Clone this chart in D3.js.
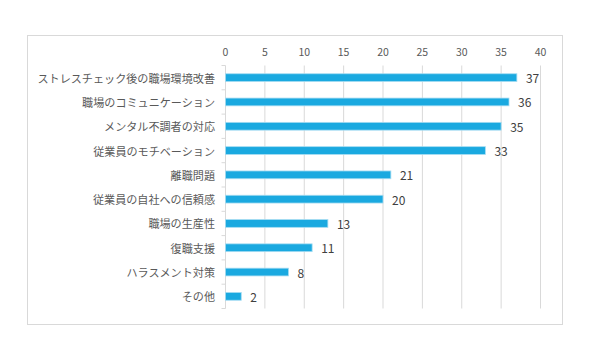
<!DOCTYPE html>
<html>
<head>
<meta charset="utf-8">
<script src="https://cdn.jsdelivr.net/npm/d3@7"></script>
<style>
  body { margin: 0; background: #fff; }
  svg { display: block; font-family: "Noto Sans CJK JP", "Noto Sans", sans-serif; }
</style>
</head>
<body>
<svg id="chart" width="600" height="351"></svg>
<script>
const categories = [
  'ストレスチェック後の職場環境改善',
  '職場のコミュニケーション',
  'メンタル不調者の対応',
  '従業員のモチベーション',
  '離職問題',
  '従業員の自社への信頼感',
  '職場の生産性',
  '復職支援',
  'ハラスメント対策',
  'その他'
]
const values = [37, 36, 35, 33, 21, 20, 13, 11, 8, 2]
const xTicks = [0, 5, 10, 15, 20, 25, 30, 35, 40]

const svg = d3.select('#chart')
const margin = {left: 225.5, right: 59.5, top: 65.5, bottom: 42.5}
const width = 600
const height = 351

// chart frame
svg.append('rect')
  .attr('x', 27.5).attr('y', 35.5)
  .attr('width', 535).attr('height', 289)
  .attr('fill', '#fff')
  .attr('stroke', '#d9d9d9')

const x = d3.scaleLinear().domain([0, 40]).range([margin.left, width - margin.right])
const y = d3.scaleBand().domain(categories).range([margin.top, height - margin.bottom]).paddingInner(0.68).paddingOuter(0.34)
const band = d3.scaleBand().domain(categories).range([margin.top, height - margin.bottom])

// grid
svg.append('g')
  .selectAll('line')
  .data(xTicks.slice(1))
  .join('line')
  .attr('x1', d => x(d)).attr('x2', d => x(d))
  .attr('y1', margin.top).attr('y2', height - margin.bottom)
  .attr('stroke', '#d9d9d9')

// top tick labels
svg.append('g')
  .selectAll('text')
  .data(xTicks)
  .join('text')
  .attr('x', d => x(d))
  .attr('y', 51)
  .attr('text-anchor', 'middle')
  .attr('dominant-baseline', 'central')
  .attr('font-size', 10.5)
  .attr('fill', '#595959')
  .text(d => d)

// left axis
const axisY = svg.append('g')
  .attr('transform', `translate(${margin.left}, 0)`)
axisY.append('line')
  .attr('y1', margin.top).attr('y2', height - margin.bottom)
  .attr('stroke', '#d9d9d9')
axisY.selectAll('.tk')
  .data(categories.concat(['__end']))
  .join('line')
  .attr('class', 'tk')
  .attr('x1', -4).attr('x2', 0)
  .attr('y1', (d, i) => margin.top + i * band.step())
  .attr('y2', (d, i) => margin.top + i * band.step())
  .attr('stroke', '#d9d9d9')

// category labels
svg.append('g')
  .selectAll('text')
  .data(categories)
  .join('text')
  .attr('x', 215)
  .attr('y', d => band(d) + band.bandwidth() / 2)
  .attr('text-anchor', 'end')
  .attr('dominant-baseline', 'central')
  .attr('font-size', 11.1)
  .attr('fill', '#595959')
  .text(d => d)

// bars
svg.append('g')
  .selectAll('rect')
  .data(values)
  .join('rect')
  .attr('x', x(0))
  .attr('y', (d, i) => y(categories[i]))
  .attr('width', d => x(d) - x(0))
  .attr('height', y.bandwidth())
  .attr('fill', '#1aa9e0')
  .attr('stroke', '#a6dcf2')
  .attr('stroke-width', 0.8)

// value labels
svg.append('g')
  .selectAll('text')
  .data(values)
  .join('text')
  .attr('x', d => x(d) + 9)
  .attr('y', (d, i) => band(categories[i]) + band.bandwidth() / 2)
  .attr('dominant-baseline', 'central')
  .attr('font-size', 12)
  .attr('fill', '#404040')
  .text(d => d)
</script>
</body>
</html>
